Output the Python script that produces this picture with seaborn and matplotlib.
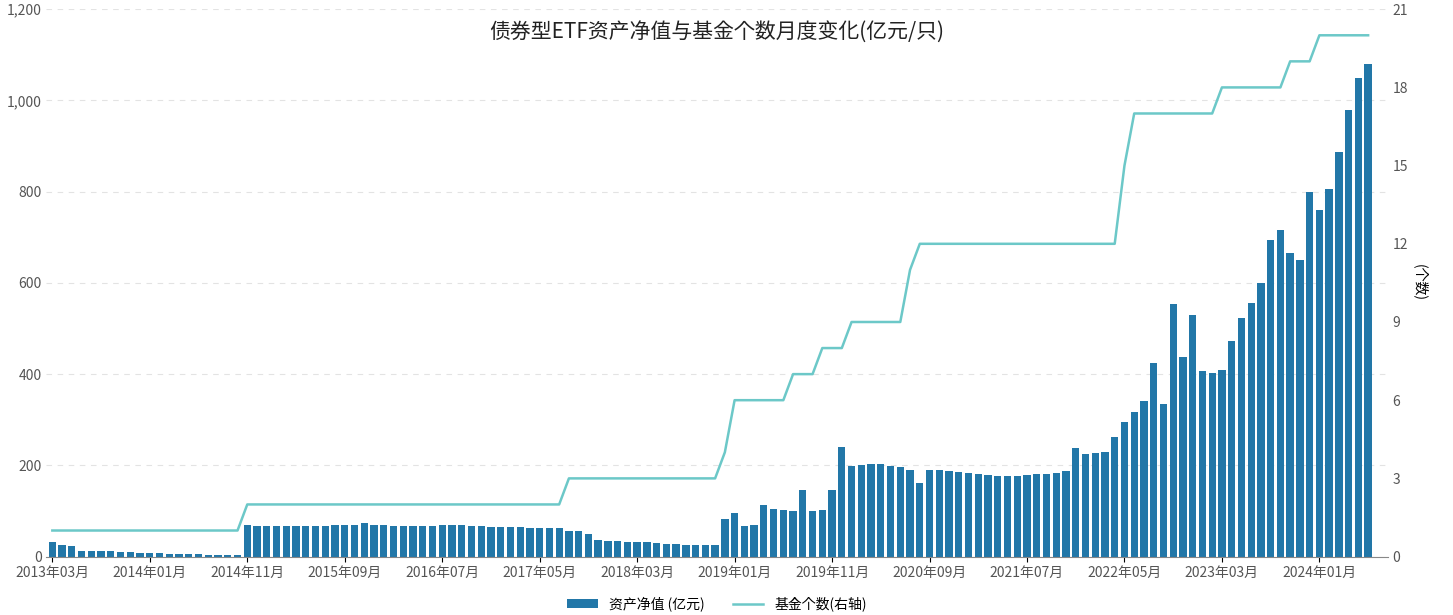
import numpy as np
import pandas as pd
import matplotlib
matplotlib.use("Agg")
import matplotlib.pyplot as plt
import seaborn as sns

plt.rcParams["font.family"] = "sans-serif"
plt.rcParams["font.sans-serif"] = ["Noto Sans CJK SC", "Noto Sans CJK JP", "Noto Sans CJK TC",
                                   "Noto Sans CJK KR", "DejaVu Sans"]
plt.rcParams["axes.unicode_minus"] = False

months = pd.period_range("2013-03", periods=136, freq="M")
labels = [f"{p.year}年{p.month:02d}月" for p in months]

nav = [33,25,23,13,13,12,12,11,9,8,
       7,7,6,6,5,5,4,4,3,3,
       70,68,68,68,67,67,66,66,67,69,
       70,70,73,70,69,68,67,67,68,68,
       69,70,69,68,66,65,65,64,64,63,
       62,63,63,57,55,50,36,35,34,33,
       32,31,30,28,27,26,25,25,26,83,
       95,67,70,113,105,103,100,147,100,103,
       145,240,198,200,202,202,198,196,190,162,
       190,190,187,185,183,180,178,176,176,176,
       178,180,182,183,188,238,225,228,230,262,
       295,318,340,425,335,553,438,530,407,403,
       408,472,522,557,600,693,715,665,650,800,
       760,805,888,980,1050,1080]

counts = ([1]*20 + [2]*33 + [3]*16 + [4]*1 + [6]*6 + [7]*3 + [8]*3 + [9]*6 + [11]*1
          + [12]*21 + [15]*1 + [17]*9 + [18]*7 + [19]*3 + [20]*6)
counts = counts[:len(nav)] + [counts[-1]]*(len(nav)-len(counts))

df = pd.DataFrame({"month": labels, "nav": nav, "count": counts, "i": np.arange(len(nav))})

fig, ax = plt.subplots(figsize=(14.53, 6.15), dpi=100)
fig.subplots_adjust(left=0.032, right=0.955, top=0.985, bottom=0.095)
sns.barplot(data=df, x="month", y="nav", color="#2277a8", width=0.75, ax=ax,
            saturation=1, label="资产净值 (亿元)")
ax.set_ylim(0, 1200)
ax.set_yticks(range(0, 1201, 200))
ax.set_yticklabels([f"{v:,}" for v in range(0, 1201, 200)], fontsize=10, color="#555555")
ticks = list(range(0, len(nav), 10))
ax.set_xticks(ticks)
ax.set_xticklabels([labels[t] for t in ticks], fontsize=10, color="#555555")
ax.set_xlim(-0.6, len(nav) + 1)
ax.set_xlabel(""); ax.set_ylabel("")
ax.yaxis.grid(True, linestyle=(0, (5, 5)), color="#e3e3e3")
ax.set_axisbelow(True)
for s in ["top", "right", "left"]:
    ax.spines[s].set_visible(False)
ax.spines["bottom"].set_color("#888888")
ax.tick_params(axis="y", length=0)

ax2 = ax.twinx()
sns.lineplot(data=df, x="i", y="count", color="#6cc8c8", linewidth=1.8, ax=ax2,
             label="基金个数(右轴)", legend=False)
ax2.set_ylim(0, 21)
ax2.set_yticks(range(0, 22, 3))
ax2.tick_params(axis="y", length=0, labelsize=10, labelcolor="#555555")
ax2.set_ylabel("(个数)", rotation=-90, labelpad=14, fontsize=10)
ax2.set_xlabel("")
for s in ["top", "right", "left", "bottom"]:
    ax2.spines[s].set_visible(False)

ax.set_title("债券型ETF资产净值与基金个数月度变化(亿元/只)", fontsize=15, y=0.93, color="#222222")
h1, l1 = ax.get_legend_handles_labels()
h2, l2 = ax2.get_legend_handles_labels()
ax.legend(h1 + h2, l1 + l2, loc="upper center", bbox_to_anchor=(0.5, -0.05), ncol=2,
          frameon=False, fontsize=10, handlelength=2.2)
fig.savefig("out.png")
